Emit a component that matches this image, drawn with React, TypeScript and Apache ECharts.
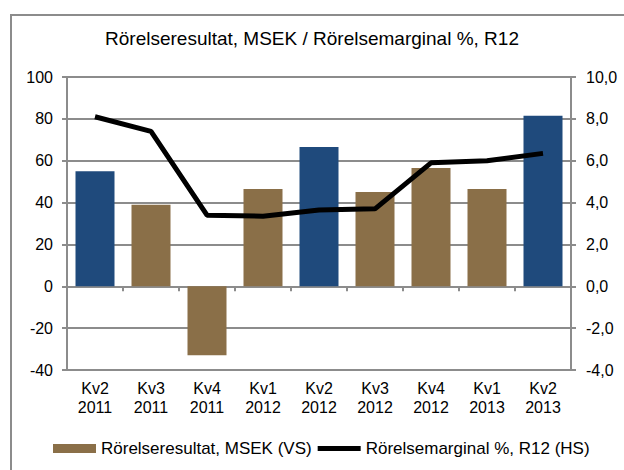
import React, { useEffect, useRef } from "react";
import * as echarts from "echarts";

const quarters = ["Kv2", "Kv3", "Kv4", "Kv1", "Kv2", "Kv3", "Kv4", "Kv1", "Kv2"];
const years = ["2011", "2011", "2011", "2012", "2012", "2012", "2012", "2013", "2013"];
const categories = quarters.map((q, i) => q + "\n" + years[i]);
const operatingResult = [55, 39, -33, 46.5, 66.5, 45, 56.5, 46.5, 81.5];
const operatingMargin = [8.1, 7.4, 3.4, 3.35, 3.65, 3.7, 5.9, 6.0, 6.35];
const highlighted = [true, false, false, false, true, false, false, false, true];
const leftTicks = { min: -40, max: 100, interval: 20 };
const rightTicks = { min: -4, max: 10, interval: 2 };

const BROWN = "#8a6f48";
const BLUE = "#1f4a7c";
const GRAY = "#8c8c8c";
const FONT = "Liberation Sans";

export default function App() {
  const ref = useRef<HTMLDivElement>(null);
  useEffect(() => {
    if (!ref.current) return;
    const chart = echarts.init(ref.current, null, { renderer: "svg" });
    const barName = "Rörelseresultat, MSEK (VS)";
    const lineName = "Rörelsemarginal %, R12 (HS)";
    chart.setOption({
      animation: false,
      backgroundColor: "#ffffff",
      textStyle: { fontFamily: FONT, color: "#000" },
      graphic: [
        {
          type: "rect",
          shape: { x: 11, y: 15, width: 700, height: 500 },
          style: { fill: "none", stroke: GRAY, lineWidth: 2 },
          z: -10,
        },
      ],
      title: {
        text: "Rörelseresultat, MSEK / Rörelsemarginal %, R12",
        left: "center",
        top: 29,
        padding: 0,
        textStyle: { fontFamily: FONT, fontSize: 19, fontWeight: "normal", color: "#000" },
      },
      legend: {
        top: 440,
        left: 53,
        padding: 0,
        itemWidth: 43,
        itemHeight: 9,
        itemGap: 6,
        textStyle: { fontFamily: FONT, fontSize: 17, color: "#000" },
        data: [
          { name: barName, icon: "rect", itemStyle: { color: BROWN } },
          { name: lineName, icon: "path://M0,0 L43,0 L43,5 L0,5 Z", itemStyle: { color: "#000" } },
        ],
      },
      grid: { left: 67, right: 53, top: 77, bottom: 100, containLabel: false },
      xAxis: [
        {
          type: "category",
          data: categories,
          position: "bottom",
          axisLine: { show: false, onZero: false },
          axisTick: { show: false },
          axisLabel: { fontSize: 16, lineHeight: 19, color: "#000", margin: 9, fontFamily: FONT },
        },
        {
          type: "category",
          data: categories,
          position: "bottom",
          axisLine: { show: true, onZero: true, lineStyle: { color: GRAY, width: 2 } },
          axisTick: { show: true, length: 5, lineStyle: { color: GRAY, width: 2 } },
          axisLabel: { show: false },
        },
      ],
      yAxis: [
        {
          type: "value",
          ...leftTicks,
          position: "left",
          axisLine: { show: true, lineStyle: { color: GRAY, width: 2 } },
          axisTick: { show: true, length: 5, lineStyle: { color: GRAY, width: 2 } },
          splitLine: { show: true, lineStyle: { color: GRAY, width: 2 } },
          axisLabel: { fontSize: 16, color: "#000", margin: 14, fontFamily: FONT },
        },
        {
          type: "value",
          ...rightTicks,
          position: "right",
          axisLine: { show: true, lineStyle: { color: GRAY, width: 2 } },
          axisTick: { show: true, length: 5, lineStyle: { color: GRAY, width: 2 } },
          splitLine: { show: false },
          axisLabel: {
            fontSize: 16,
            color: "#000",
            margin: 15,
            fontFamily: FONT,
            formatter: (v: number) => v.toFixed(1).replace(".", ","),
          },
        },
      ],
      series: [
        {
          name: barName,
          type: "bar",
          xAxisIndex: 0,
          yAxisIndex: 0,
          barWidth: 39,
          itemStyle: { color: BROWN },
          data: operatingResult.map((v, i) => ({
            value: v,
            itemStyle: { color: highlighted[i] ? BLUE : BROWN },
          })),
          z: 2,
        },
        {
          name: lineName,
          type: "line",
          xAxisIndex: 0,
          yAxisIndex: 1,
          data: operatingMargin,
          symbol: "none",
          lineStyle: { color: "#000", width: 5 },
          itemStyle: { color: "#000" },
          z: 5,
        },
      ],
    });
    return () => chart.dispose();
  }, []);
  return (
    <div
      ref={ref}
      style={{ position: "fixed", left: 0, top: 0, width: 624, height: 470, background: "#fff" }}
    />
  );
}
